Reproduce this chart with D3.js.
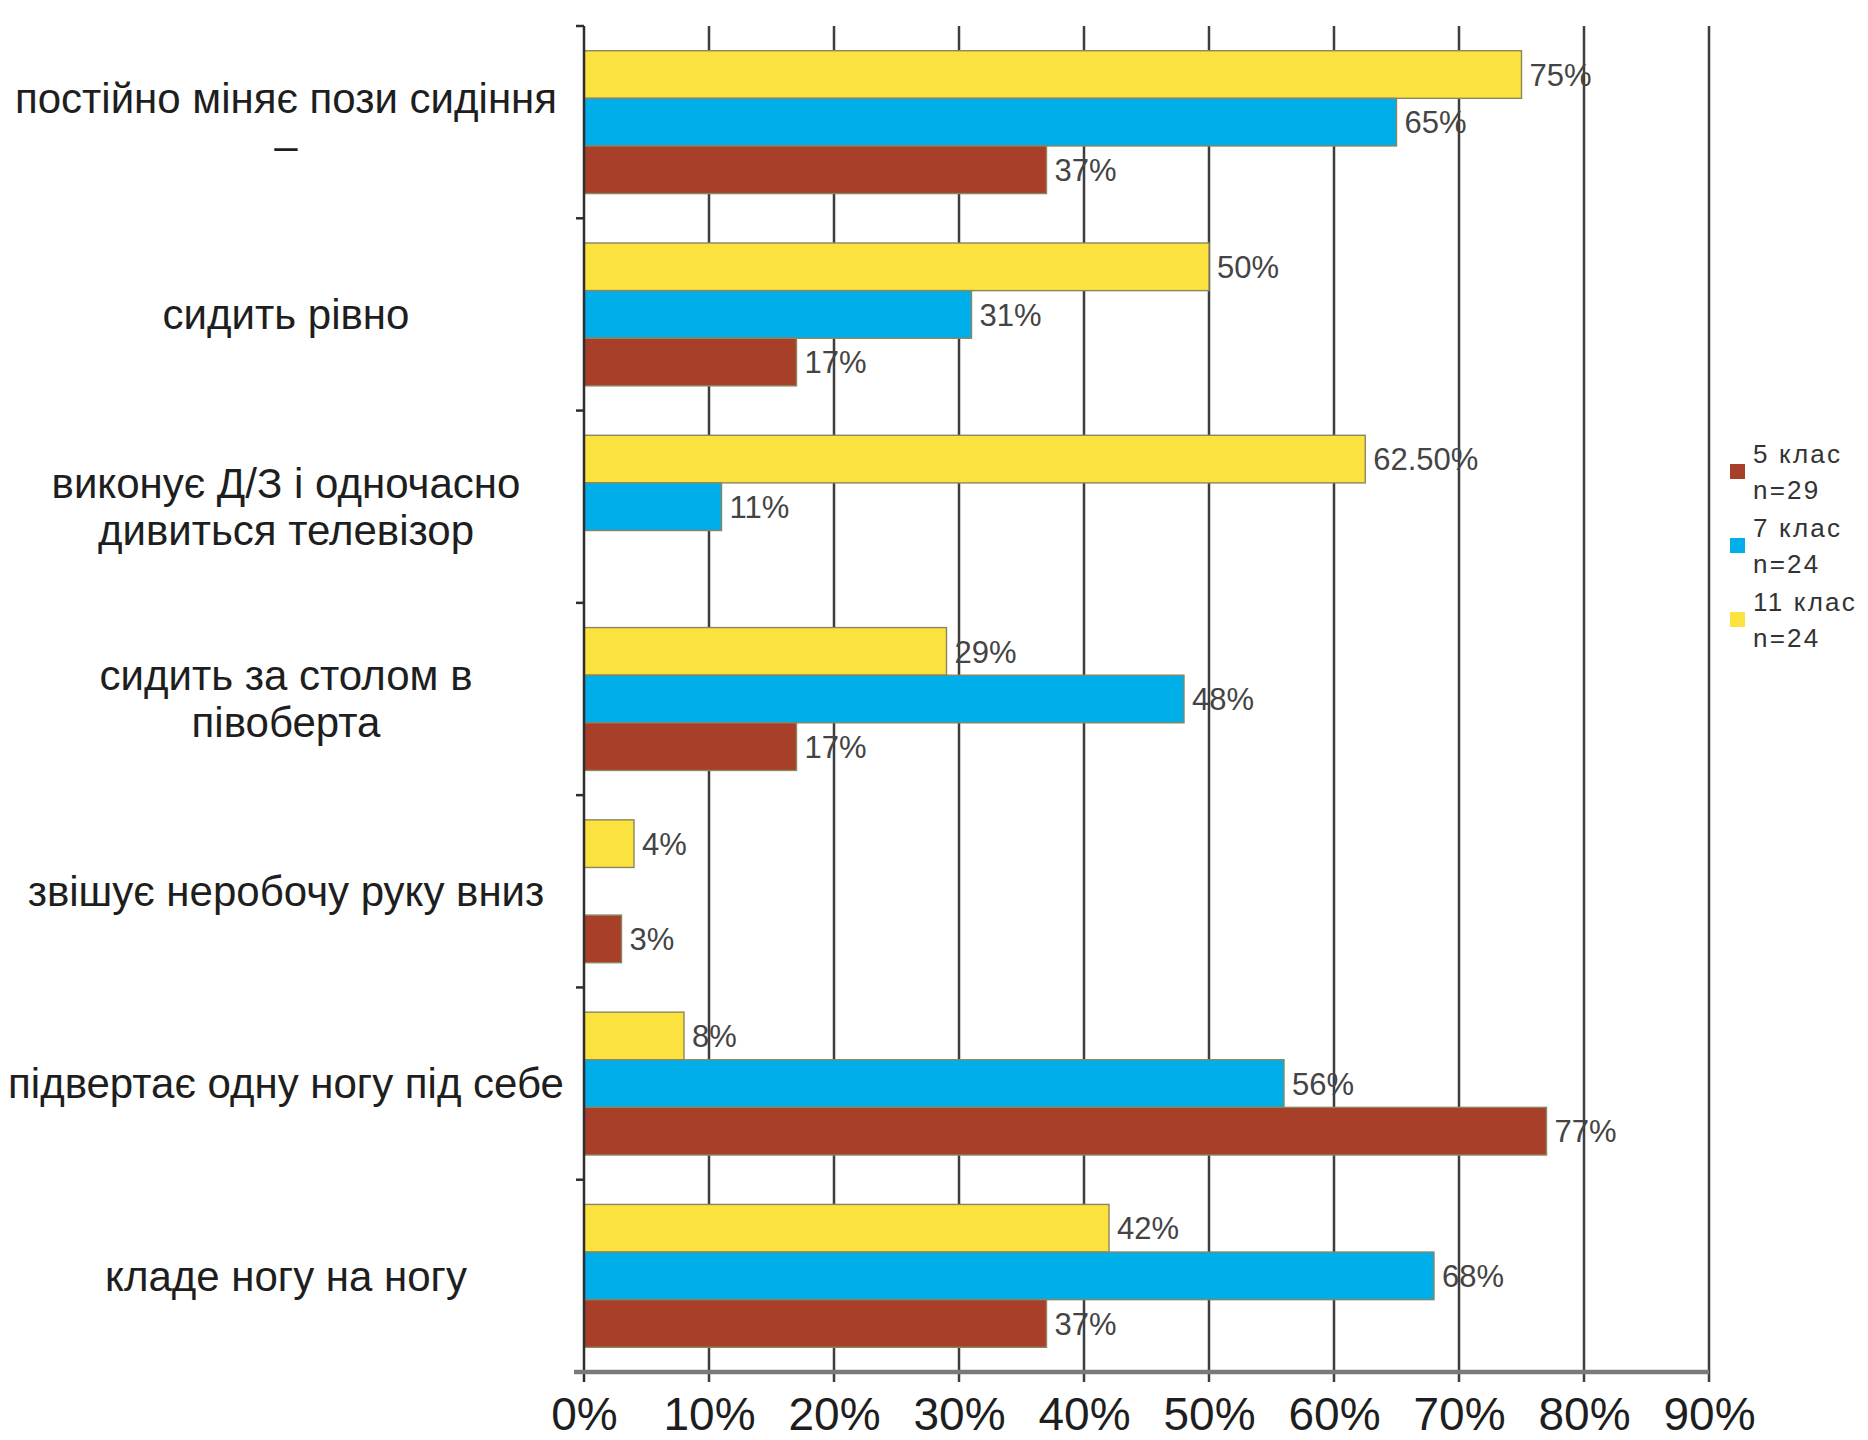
<!DOCTYPE html>
<html>
<head>
<meta charset="utf-8">
<script src="https://cdn.jsdelivr.net/npm/d3@7"></script>
<style>
  html, body { margin: 0; padding: 0; background: #ffffff; }
  svg { display: block; font-family: "Liberation Sans", Arial, sans-serif; }
</style>
</head>
<body>
<svg id="chart" width="1868" height="1440"></svg>
<script>
// Sitting habits by school grade, share of pupils (%)
const categories = [
  ["постійно міняє пози сидіння", "–"],
  ["сидить рівно"],
  ["виконує Д/З і одночасно", "дивиться телевізор"],
  ["сидить за столом в", "півоберта"],
  ["звішує неробочу руку вниз"],
  ["підвертає одну ногу під себе"],
  ["кладе ногу на ногу"]
];

const grade5  = [37, 17, null, 17, 3, 77, 37];
const grade7  = [65, 31, 11, 48, null, 56, 68];
const grade11 = [75, 50, 62.5, 29, 4, 8, 42];

const seriesKeys   = ["g11", "g7", "g5"];          // top-to-bottom order inside each group
const seriesTitles = ["5 клас", "7 клас", "11 клас"];
const seriesSizes  = ["n=29", "n=24", "n=24"];
const seriesColors = { g5: "#A83F28", g7: "#00AEEA", g11: "#FCE23E" };
const legendOrder  = ["g5", "g7", "g11"];

const xTicks = [0, 10, 20, 30, 40, 50, 60, 70, 80, 90];

const seriesValues = { g5: grade5, g7: grade7, g11: grade11 };

const svg = d3.select("#chart");

const plot = { left: 584, right: 1709, top: 26, bottom: 1372 };

const x = d3.scaleLinear().domain([0, 90]).range([plot.left, plot.right]);

const y = d3.scaleBand()
  .domain(d3.range(categories.length))
  .range([plot.top, plot.bottom])
  .paddingInner(0.257)
  .paddingOuter(0.1285);

const ySub = d3.scaleBand()
  .domain(seriesKeys)
  .range([0, y.bandwidth()]);

const fmt = v => (Number.isInteger(v) ? v : v.toFixed(2)) + "%";

// vertical gridlines (with short tick extension below the axis)
svg.append("g")
  .selectAll("line")
  .data(xTicks.filter(t => t > 0))
  .join("line")
  .attr("x1", d => x(d)).attr("x2", d => x(d))
  .attr("y1", plot.top).attr("y2", plot.bottom + 10)
  .attr("stroke", "#3e3e3e")
  .attr("stroke-width", 2.5);

// bars
const groups = svg.append("g")
  .selectAll("g")
  .data(categories.map((c, i) => i))
  .join("g")
  .attr("transform", i => `translate(0,${y(i)})`);

const barData = i => seriesKeys
  .map(k => ({ key: k, value: seriesValues[k][i] }))
  .filter(d => d.value !== null);

groups.selectAll("rect")
  .data(i => barData(i))
  .join("rect")
  .attr("x", x(0))
  .attr("y", d => ySub(d.key))
  .attr("width", d => x(d.value) - x(0))
  .attr("height", ySub.bandwidth())
  .attr("fill", d => seriesColors[d.key])
  .attr("stroke", "#8a8660")
  .attr("stroke-width", 1.4);

groups.selectAll("text")
  .data(i => barData(i))
  .join("text")
  .attr("x", d => x(d.value) + 8)
  .attr("y", d => ySub(d.key) + ySub.bandwidth() / 2)
  .attr("dy", "0.36em")
  .attr("font-size", 31)
  .attr("fill", "#444")
  .text(d => fmt(d.value));

// left axis line at 0%
svg.append("line")
  .attr("x1", x(0)).attr("x2", x(0))
  .attr("y1", plot.top).attr("y2", plot.bottom + 10)
  .attr("stroke", "#2e2e2e")
  .attr("stroke-width", 2.5);

// category boundary ticks on the left axis
const step = y.step();
svg.append("g")
  .selectAll("line")
  .data(d3.range(categories.length + 1))
  .join("line")
  .attr("x1", x(0) - 8).attr("x2", x(0))
  .attr("y1", i => plot.top + i * step)
  .attr("y2", i => plot.top + i * step)
  .attr("stroke", "#2e2e2e")
  .attr("stroke-width", 2.5);

// bottom axis line
svg.append("line")
  .attr("x1", x(0) - 10).attr("x2", x(90))
  .attr("y1", plot.bottom).attr("y2", plot.bottom)
  .attr("stroke", "#7a7a7a")
  .attr("stroke-width", 4.5);

// x tick labels
const xAxis = d3.axisBottom(x)
  .tickValues(xTicks)
  .tickFormat(d => d + "%")
  .tickSize(0)
  .tickPadding(0);

const xg = svg.append("g")
  .attr("transform", `translate(0,${plot.bottom})`)
  .call(xAxis);
xg.select(".domain").remove();
xg.selectAll("text")
  .attr("y", 58)
  .attr("dy", 0)
  .attr("font-size", 46)
  .attr("font-family", "Liberation Sans, Arial, sans-serif")
  .attr("fill", "#1e1e1e");

// category labels
const labelX = 286;
const lineH = 47;
svg.append("g")
  .selectAll("text")
  .data(categories.map((c, i) => ({ lines: c, i })))
  .join("text")
  .attr("text-anchor", "middle")
  .attr("font-size", 42)
  .attr("fill", "#1e1e1e")
  .each(function (d) {
    const cy = y(d.i) + y.bandwidth() / 2;
    const n = d.lines.length;
    d3.select(this).selectAll("tspan")
      .data(d.lines)
      .join("tspan")
      .attr("x", labelX)
      .attr("y", (l, j) => cy + (j - (n - 1) / 2) * lineH)
      .attr("dy", "0.35em")
      .text(l => l);
  });

// legend
const legend = svg.append("g").attr("transform", "translate(1730,454)");
const legendStep = 74;
legendOrder.forEach((k, i) => {
  const g = legend.append("g").attr("transform", `translate(0,${i * legendStep})`);
  g.append("rect")
    .attr("x", 0).attr("y", 10)
    .attr("width", 15).attr("height", 15)
    .attr("fill", seriesColors[k]);
  g.append("text")
    .attr("x", 23).attr("y", 0).attr("dy", "0.35em")
    .attr("font-size", 26)
    .attr("letter-spacing", 2.2)
    .attr("fill", "#333")
    .text(seriesTitles[i]);
  g.append("text")
    .attr("x", 23).attr("y", 36).attr("dy", "0.35em")
    .attr("font-size", 26)
    .attr("letter-spacing", 2.2)
    .attr("fill", "#333")
    .text(seriesSizes[i]);
});
</script>
</body>
</html>
